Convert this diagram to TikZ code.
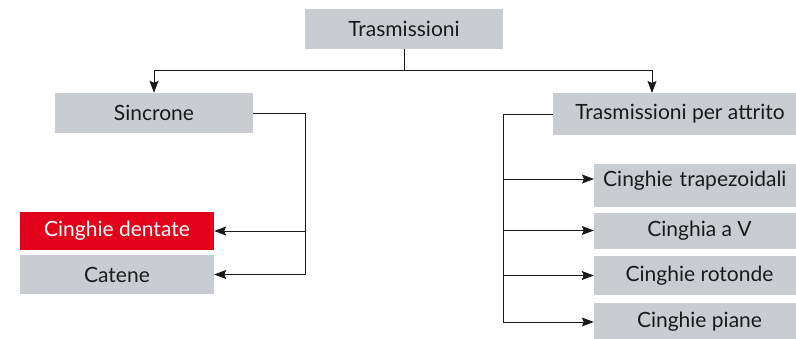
\documentclass[tikz,border=0pt]{standalone}
\usepackage{fontspec}
\setmainfont{Lato}
\usetikzlibrary{arrows.meta}
\definecolor{boxgrey}{HTML}{C9CDD1}
\definecolor{boxred}{HTML}{E2001A}
\definecolor{ink}{HTML}{1A1A1A}
\tikzset{
  x=1pt, y=-1pt,
  box/.style={fill=boxgrey, text=ink, inner sep=0pt, font=\fontsize{21}{25}\selectfont},
  redbox/.style={box, fill=boxred, text=white},
  link/.style={draw=ink, line width=0.9pt},
  arr/.style={link, -{Stealth[length=12pt, width=9pt, inset=2pt]}},
}
\begin{document}
\begin{tikzpicture}
\useasboundingbox (0,0) rectangle (796,338);
\begin{scope}
\clip (0,0) rectangle (796,338);

% boxes
\node[box, minimum width=198pt, minimum height=40pt] (top) at (404,28.5) {Trasmissioni};
\node[box, minimum width=198pt, minimum height=40pt] (sinc) at (154,113) {Sincrone};
\node[box, minimum width=254pt, minimum height=42pt] (attr) at (680,114) {Trasmissioni per attrito};
\node[redbox, minimum width=194pt, minimum height=38pt] (dent) at (117,231) {Cinghie dentate};
\node[box, minimum width=194pt, minimum height=39pt] (cat) at (117,274.5) {Catene};
\node[box, anchor=west, text width=193pt, align=left, inner xsep=9pt,
      minimum height=43pt, text depth=14pt] (trap) at (594,185.5) {Cinghie trapezoidali};
\node[box, minimum width=211pt, minimum height=36pt] (cv) at (699.5,230.5) {Cinghia a V};
\node[box, minimum width=211pt, minimum height=39pt] (rot) at (699.5,275.5) {Cinghie rotonde};
\node[box, minimum width=211pt, minimum height=38pt] (pia) at (699.5,322) {Cinghie piane};

% upper branching
\coordinate (hub) at (404,70);
\coordinate (attrin) at (652,93);
\draw[link] (top.south) -- (hub);
\draw[arr] (hub) -| (sinc.north);
\draw[arr] (hub) -| (attrin);

% synchronous drives
\coordinate (sbus) at (305,113);
\draw[link] (sinc.east) -- (sbus);
\draw[arr] (sbus) |- (cat.east);
\draw[arr] (sbus |- dent.east) -- (dent.east);

% friction drives
\coordinate (fbus) at (503,114);
\coordinate (trapin) at (594,179);
\draw[link] (attr.west) -- (fbus) -- (fbus |- pia.west);
\draw[arr] (fbus |- trapin) -- (trapin);
\draw[arr] (fbus |- cv.west) -- (cv.west);
\draw[arr] (fbus |- rot.west) -- (rot.west);
\draw[arr] (fbus |- pia.west) -- (pia.west);
\end{scope}
\end{tikzpicture}
\end{document}
